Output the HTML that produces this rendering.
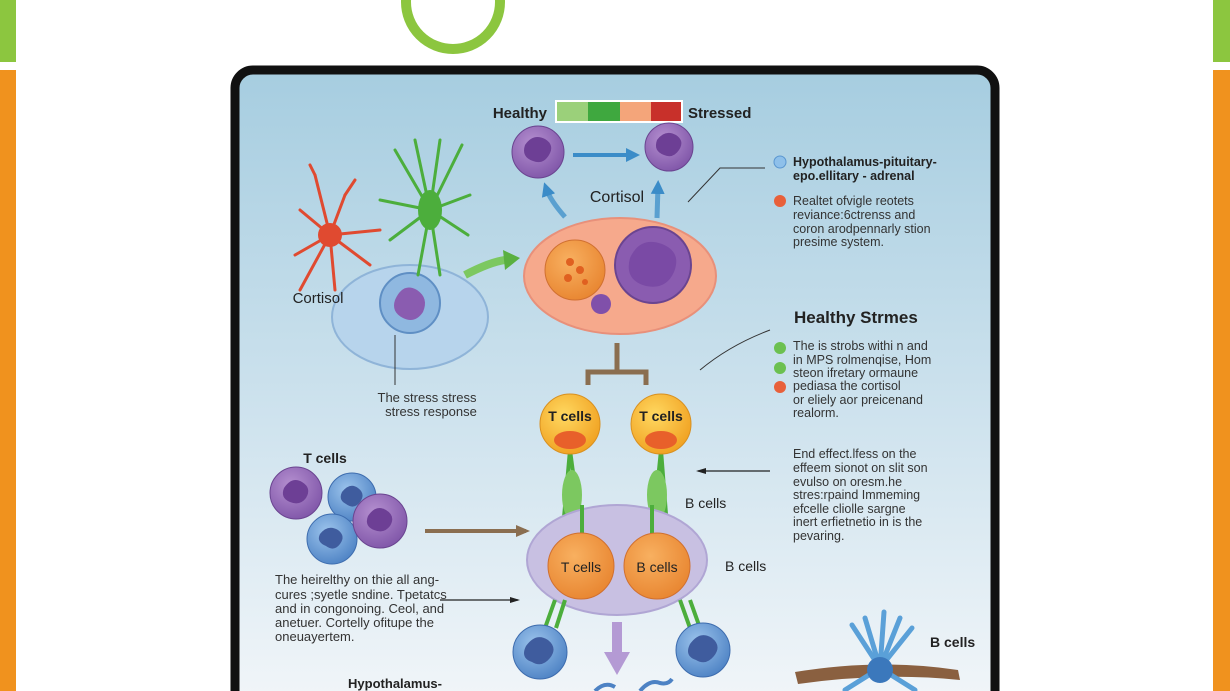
<!DOCTYPE html>
<html><head><meta charset="utf-8"><style>
html,body{margin:0;padding:0;background:#fff;}
svg{display:block;font-family:"Liberation Sans",sans-serif;}
</style></head><body>
<svg width="1230" height="691" viewBox="0 0 1230 691" xmlns="http://www.w3.org/2000/svg">
<defs>
<linearGradient id="bg" x1="0" y1="0" x2="0" y2="1">
<stop offset="0" stop-color="#a6cde0"/><stop offset="0.55" stop-color="#cfe3ee"/><stop offset="1" stop-color="#f2f6f9"/>
</linearGradient>
<radialGradient id="yel" cx="0.4" cy="0.35" r="0.7"><stop offset="0" stop-color="#ffd860"/><stop offset="1" stop-color="#f0a020"/></radialGradient>
<radialGradient id="org" cx="0.4" cy="0.35" r="0.7"><stop offset="0" stop-color="#f8b060"/><stop offset="1" stop-color="#e88530"/></radialGradient>
<radialGradient id="pur" cx="0.4" cy="0.35" r="0.7"><stop offset="0" stop-color="#b590d0"/><stop offset="1" stop-color="#7f55a8"/></radialGradient>
<radialGradient id="blu" cx="0.4" cy="0.35" r="0.7"><stop offset="0" stop-color="#9cc4ec"/><stop offset="1" stop-color="#4d82c4"/></radialGradient>
<marker id="ab" markerUnits="userSpaceOnUse" markerWidth="14" markerHeight="14" refX="8" refY="7" orient="auto"><path d="M0,0 L14,7 L0,14z" fill="#3b8cc8"/></marker>
<marker id="ak" markerUnits="userSpaceOnUse" markerWidth="10" markerHeight="8" refX="8" refY="4" orient="auto"><path d="M0,1 L10,4 L0,7z" fill="#222"/></marker>
<marker id="abr" markerUnits="userSpaceOnUse" markerWidth="14" markerHeight="14" refX="10" refY="7" orient="auto"><path d="M0,1 L14,7 L0,13z" fill="#8a6e50"/></marker>
</defs>
<!-- side bars -->
<rect x="0" y="0" width="16" height="62" fill="#8cc63f"/>
<rect x="0" y="70" width="16" height="621" fill="#f0921e"/>
<rect x="1213" y="0" width="17" height="62" fill="#8cc63f"/>
<rect x="1213" y="70" width="17" height="621" fill="#f0921e"/>
<circle cx="453" cy="2" r="47" fill="none" stroke="#8cc63f" stroke-width="10"/>
<!-- frame -->
<rect x="235" y="70" width="760" height="640" rx="18" fill="url(#bg)" stroke="#111" stroke-width="9"/>
<!-- color bar -->
<rect x="556" y="101" width="32" height="21" fill="#9bd07a"/>
<rect x="588" y="101" width="32" height="21" fill="#3fa83f"/>
<rect x="620" y="101" width="31" height="21" fill="#f4a57a"/>
<rect x="651" y="101" width="31" height="21" fill="#c8302a"/>
<rect x="556" y="101" width="126" height="21" fill="none" stroke="#fff" stroke-width="2"/>
<text x="547" y="118" font-size="15" font-weight="bold" text-anchor="end" fill="#222">Healthy</text>
<text x="688" y="118" font-size="15" font-weight="bold" fill="#222">Stressed</text>
<!-- top purple cells -->
<circle cx="538" cy="152" r="26" fill="url(#pur)" stroke="#6a4490"/>
<path d="M525,145 q8,-12 20,-6 q10,6 4,16 q-6,10 -16,6 q-12,-4 -8,-16z" fill="#6d3f95"/>
<circle cx="669" cy="147" r="24" fill="url(#pur)" stroke="#6a4490"/>
<path d="M657,140 q8,-11 19,-5 q9,6 3,15 q-6,9 -15,5 q-11,-4 -7,-15z" fill="#6d3f95"/>
<line x1="573" y1="155" x2="634" y2="155" stroke="#3b8cc8" stroke-width="4" marker-end="url(#ab)"/>
<text x="617" y="202" font-size="16" text-anchor="middle" fill="#222">Cortisol</text>
<path d="M565,217 Q550,200 546,188" stroke="#5aa0d0" stroke-width="5" fill="none" marker-end="url(#ab)"/>
<path d="M657,218 L658,186" stroke="#5aa0d0" stroke-width="5" fill="none" marker-end="url(#ab)"/>
<!-- peach cell -->
<ellipse cx="620" cy="276" rx="96" ry="58" fill="#f6a98c" stroke="#e8907a" stroke-width="2"/>
<circle cx="575" cy="270" r="30" fill="url(#org)" stroke="#d07030"/>
<circle cx="570" cy="262" r="4" fill="#e06020"/><circle cx="580" cy="270" r="4" fill="#e06020"/><circle cx="568" cy="278" r="4" fill="#e06020"/><circle cx="585" cy="282" r="3" fill="#e06020"/>
<circle cx="653" cy="265" r="38" fill="#8a5cb0" stroke="#6a4490" stroke-width="2"/>
<path d="M630,258 q10,-22 32,-14 q20,8 12,28 q-8,18 -28,14 q-22,-6 -16,-28z" fill="#7a4aa5"/>
<circle cx="601" cy="304" r="10" fill="#8050aa"/>
<!-- left cell -->
<ellipse cx="410" cy="317" rx="78" ry="52" fill="#b7d4ec" stroke="#8fb4d8" stroke-width="2"/>
<circle cx="410" cy="303" r="30" fill="#8fb8e0" stroke="#5f8fc4" stroke-width="2"/>
<path d="M395,300 q8,-18 22,-10 q12,8 6,22 q-8,12 -20,6 q-12,-6 -8,-18z" fill="#8a5cb0"/>
<text x="318" y="303" font-size="15" text-anchor="middle" fill="#222">Cortisol</text>
<!-- red spiky -->
<g stroke="#e04a30" stroke-width="3" fill="none" stroke-linecap="round">
<path d="M330,235 L315,175"/><path d="M330,235 L300,210"/><path d="M330,235 L295,255"/><path d="M330,235 L300,290"/><path d="M330,235 L345,195"/><path d="M330,235 L380,230"/><path d="M330,235 L370,265"/><path d="M330,235 L335,290"/><path d="M315,175 L310,165"/><path d="M345,195 L355,180"/>
</g>
<circle cx="330" cy="235" r="12" fill="#e04a30"/>
<!-- green spiky -->
<g stroke="#4cae3c" stroke-width="3" fill="none" stroke-linecap="round">
<path d="M430,210 L395,150"/><path d="M430,210 L415,140"/><path d="M430,210 L440,140"/><path d="M430,210 L462,145"/><path d="M430,210 L380,200"/><path d="M430,210 L470,195"/><path d="M430,210 L468,235"/><path d="M430,210 L440,275"/><path d="M430,210 L418,275"/><path d="M430,210 L390,240"/>
</g>
<ellipse cx="430" cy="210" rx="12" ry="20" fill="#4cae3c"/>
<path d="M465,275 Q490,262 505,260" stroke="#7cc860" stroke-width="8" fill="none"/>
<path d="M503,250 L520,258 L505,270z" fill="#5ab040"/>
<line x1="395" y1="335" x2="395" y2="385" stroke="#333" stroke-width="1"/>
<text font-size="13" fill="#333" text-anchor="middle"><tspan x="427" y="402">The stress stress</tspan><tspan x="431" y="416">stress response</tspan></text>
<!-- T bar -->
<path d="M617,343 V372 M588,385 V372 H646 V385" stroke="#8a6e50" stroke-width="5" fill="none"/>
<!-- T cells -->
<line x1="570" y1="450" x2="582" y2="540" stroke="#4cae3c" stroke-width="4"/>
<line x1="570" y1="450" x2="562" y2="540" stroke="#4cae3c" stroke-width="4"/>
<line x1="661" y1="450" x2="652" y2="540" stroke="#4cae3c" stroke-width="4"/>
<line x1="661" y1="450" x2="668" y2="540" stroke="#4cae3c" stroke-width="4"/>
<ellipse cx="572" cy="495" rx="10" ry="25" fill="#7cc860"/>
<ellipse cx="657" cy="495" rx="10" ry="25" fill="#7cc860"/>
<circle cx="570" cy="424" r="30" fill="url(#yel)" stroke="#d89020"/>
<ellipse cx="570" cy="440" rx="16" ry="9" fill="#e8602a"/>
<text x="570" y="421" font-size="14" font-weight="bold" text-anchor="middle" fill="#222">T cells</text>
<circle cx="661" cy="424" r="30" fill="url(#yel)" stroke="#d89020"/>
<ellipse cx="661" cy="440" rx="16" ry="9" fill="#e8602a"/>
<text x="661" y="421" font-size="14" font-weight="bold" text-anchor="middle" fill="#222">T cells</text>
<!-- lavender -->
<ellipse cx="617" cy="560" rx="90" ry="55" fill="#c8c0e2" stroke="#b0a6d4" stroke-width="2"/>
<line x1="582" y1="505" x2="582" y2="540" stroke="#4cae3c" stroke-width="4"/>
<line x1="652" y1="505" x2="652" y2="540" stroke="#4cae3c" stroke-width="4"/>
<circle cx="581" cy="566" r="33" fill="url(#org)" stroke="#d07030"/>
<circle cx="657" cy="566" r="33" fill="url(#org)" stroke="#d07030"/>
<text x="581" y="572" font-size="14" text-anchor="middle" fill="#222">T cells</text>
<text x="657" y="572" font-size="14" text-anchor="middle" fill="#222">B cells</text>
<text x="685" y="508" font-size="14" fill="#222">B cells</text>
<text x="725" y="571" font-size="14" fill="#222">B cells</text>
<!-- left cluster -->
<text x="325" y="463" font-size="14" font-weight="bold" text-anchor="middle" fill="#222">T cells</text>
<circle cx="296" cy="493" r="26" fill="url(#pur)" stroke="#6a4490"/>
<path d="M284,488 q8,-12 18,-6 q10,6 4,16 q-6,8 -16,4 q-10,-4 -6,-14z" fill="#6d3f95"/>
<circle cx="352" cy="497" r="24" fill="url(#blu)" stroke="#3d6cae"/>
<path d="M342,492 q8,-10 16,-4 q8,6 2,14 q-6,8 -14,2 q-8,-4 -4,-12z" fill="#3f5c9e"/>
<circle cx="332" cy="539" r="25" fill="url(#blu)" stroke="#3d6cae"/>
<path d="M320,534 q8,-10 18,-4 q8,6 2,14 q-6,8 -14,2 q-10,-4 -6,-12z" fill="#3f5c9e"/>
<circle cx="380" cy="521" r="27" fill="url(#pur)" stroke="#6a4490"/>
<path d="M368,516 q8,-12 18,-6 q10,6 4,16 q-6,8 -16,4 q-10,-4 -6,-14z" fill="#6d3f95"/>
<line x1="425" y1="531" x2="526" y2="531" stroke="#8a6e50" stroke-width="4" marker-end="url(#abr)"/>
<text font-size="13" fill="#333"><tspan x="275" y="584">The heirelthy on thie all ang-</tspan><tspan x="275" y="599">cures ;syetle sndine. Tpetatcs</tspan><tspan x="275" y="613">and in congonoing. Ceol, and</tspan><tspan x="275" y="627">anetuer. Cortelly ofitupe the</tspan><tspan x="275" y="641">oneuayertem.</tspan></text>
<line x1="440" y1="600" x2="518" y2="600" stroke="#222" stroke-width="1.2" marker-end="url(#ak)"/>
<!-- bottom -->
<line x1="555" y1="600" x2="545" y2="628" stroke="#4cae3c" stroke-width="4"/>
<line x1="565" y1="600" x2="556" y2="628" stroke="#4cae3c" stroke-width="4"/>
<line x1="680" y1="600" x2="690" y2="628" stroke="#4cae3c" stroke-width="4"/>
<line x1="690" y1="600" x2="700" y2="628" stroke="#4cae3c" stroke-width="4"/>
<circle cx="540" cy="652" r="27" fill="url(#blu)" stroke="#3d6cae"/>
<path d="M526,646 q10,-14 22,-6 q10,8 2,18 q-8,10 -18,4 q-12,-4 -6,-16z" fill="#3f5c9e"/>
<circle cx="703" cy="650" r="27" fill="url(#blu)" stroke="#3d6cae"/>
<path d="M690,644 q10,-14 22,-6 q10,8 2,18 q-8,10 -18,4 q-12,-4 -6,-16z" fill="#3f5c9e"/>
<path d="M617,622 V655" stroke="#b49ad4" stroke-width="10"/>
<path d="M604,652 L630,652 L617,675z" fill="#b49ad4"/>
<path d="M595,691 q10,-10 20,-4 M640,691 q10,-12 20,-8 q8,2 12,-4" stroke="#4d82c4" stroke-width="4" fill="none"/>
<text x="395" y="688" font-size="13" font-weight="bold" text-anchor="middle" fill="#222">Hypothalamus-</text>
<!-- bottom right -->
<path d="M795,672 Q880,658 958,670 L960,680 Q880,672 798,684z" fill="#8a6040"/>
<g stroke="#5aa0d8" stroke-width="5" fill="none" stroke-linecap="round">
<path d="M880,668 L852,625"/><path d="M880,668 L865,618"/><path d="M880,668 L884,612"/><path d="M880,668 L900,618"/><path d="M880,668 L912,628"/><path d="M880,668 L845,690"/><path d="M880,668 L915,690"/>
</g>
<circle cx="880" cy="670" r="13" fill="#3b78bc"/>
<text x="930" y="647" font-size="14" font-weight="bold" fill="#222">B cells</text>
<!-- right annotations -->
<path d="M688,202 L720,168 L765,168" stroke="#333" stroke-width="1" fill="none"/>
<circle cx="780" cy="162" r="6" fill="#8ec0ea" stroke="#5a96d0"/>
<text font-size="12.5" font-weight="bold" fill="#222"><tspan x="793" y="166">Hypothalamus-pituitary-</tspan><tspan x="793" y="180">epo.ellitary - adrenal</tspan></text>
<circle cx="780" cy="201" r="6" fill="#e8603a"/>
<text font-size="12.5" fill="#333"><tspan x="793" y="205">Realtet ofvigle reotets</tspan><tspan x="793" y="219">reviance:6ctrenss and</tspan><tspan x="793" y="233">coron arodpennarly stion</tspan><tspan x="793" y="246">presime system.</tspan></text>
<text x="794" y="323" font-size="17" font-weight="bold" fill="#222">Healthy Strmes</text>
<path d="M700,370 Q730,345 770,330" stroke="#333" stroke-width="1" fill="none"/>
<circle cx="780" cy="348" r="6" fill="#6cc050"/>
<circle cx="780" cy="368" r="6" fill="#6cc050"/>
<circle cx="780" cy="387" r="6" fill="#e8603a"/>
<text font-size="12.5" fill="#333"><tspan x="793" y="350">The is strobs withi n and</tspan><tspan x="793" y="364">in MPS rolmenqise, Hom</tspan><tspan x="793" y="377">steon ifretary ormaune</tspan><tspan x="793" y="390">pediasa the cortisol</tspan><tspan x="793" y="404">or eliely aor preicenand</tspan><tspan x="793" y="417">realorm.</tspan></text>
<line x1="770" y1="471" x2="698" y2="471" stroke="#222" stroke-width="1.2" marker-end="url(#ak)"/>
<text font-size="12.5" fill="#333"><tspan x="793" y="458">End effect.lfess on the</tspan><tspan x="793" y="472">effeem sionot on slit son</tspan><tspan x="793" y="486">evulso on oresm.he</tspan><tspan x="793" y="499">stres:rpaind Immeming</tspan><tspan x="793" y="513">efcelle cliolle sargne</tspan><tspan x="793" y="526">inert erfietnetio in is the</tspan><tspan x="793" y="540">pevaring.</tspan></text>
</svg>
</body></html>
